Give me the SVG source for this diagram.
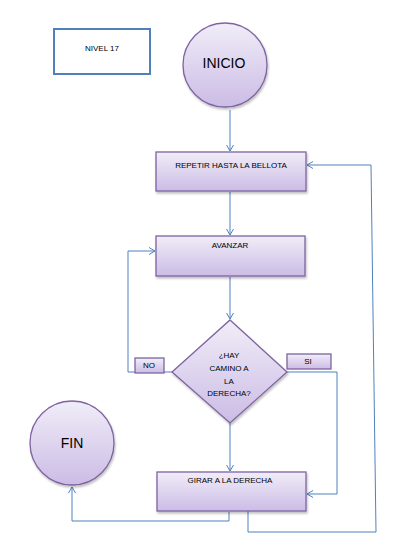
<svg xmlns="http://www.w3.org/2000/svg" width="402" height="547" viewBox="0 0 402 547">
<defs>
<linearGradient id="g" x1="0" y1="0" x2="0" y2="1">
<stop offset="0" stop-color="#f1edf8"/>
<stop offset="1" stop-color="#cbbce5"/>
</linearGradient>
<filter id="sh" x="-10%" y="-10%" width="130%" height="130%">
<feDropShadow dx="1" dy="2" stdDeviation="1" flood-color="#000" flood-opacity="0.25"/>
</filter>
<marker id="a" markerWidth="8" markerHeight="8" refX="7" refY="4" orient="auto" markerUnits="userSpaceOnUse">
<path d="M1,0.5 L7,4 L1,7.5" fill="none" stroke="#4f81bd" stroke-width="1"/>
</marker>
</defs>
<style>
.n{fill:url(#g);stroke:#7f63a1;stroke-width:1.3;filter:url(#sh)}
.t{font-family:"Liberation Sans",Arial,sans-serif;font-size:8px;fill:#000;text-anchor:middle}
.big{font-size:14px}
.c{fill:none;stroke:#4f81bd;stroke-width:1}
</style>
<rect width="402" height="547" fill="#fff"/>
<g id="connectors">
<line class="c" x1="230" y1="110" x2="230" y2="151" marker-end="url(#a)"/>
<line class="c" x1="230" y1="192" x2="230" y2="235" marker-end="url(#a)"/>
<line class="c" x1="230" y1="277" x2="230" y2="319" marker-end="url(#a)"/>
<line class="c" x1="230" y1="423" x2="230" y2="471" marker-end="url(#a)"/>
<polyline class="c" points="172,372 128,372 128,251 155,251" marker-end="url(#a)"/>
<polyline class="c" points="287,372 337,372 337,494 307,494" marker-end="url(#a)"/>
<polyline class="c" points="229,512 229,521 72,521 72,487" marker-end="url(#a)"/>
<polyline class="c" points="248,510 248,532 376,532 371,165 307,165" marker-end="url(#a)"/>
</g>
<g id="nivel">
<rect x="54" y="29" width="96" height="45" fill="#fff" stroke="#4f81bd" stroke-width="2"/>
<text class="t" x="102" y="51">NIVEL 17</text>
</g>
<g id="inicio">
<circle class="n" cx="225" cy="65" r="42"/>
<text class="t big" x="224" y="68">INICIO</text>
</g>
<g id="repetir">
<rect class="n" x="156" y="152" width="150" height="39"/>
<text class="t" x="231" y="168">REPETIR HASTA LA BELLOTA</text>
</g>
<g id="avanzar">
<rect class="n" x="156" y="236" width="149" height="40"/>
<text class="t" x="230" y="248">AVANZAR</text>
</g>
<g id="decision">
<polygon class="n" points="230,320 287,372 230,423 172,372"/>
<text class="t" x="229" y="358">¿HAY</text>
<text class="t" x="229" y="371">CAMINO A</text>
<text class="t" x="229" y="384">LA</text>
<text class="t" x="229" y="396">DERECHA?</text>
</g>
<g id="no">
<rect class="n" x="135" y="358" width="29" height="15" style="filter:none"/>
<text class="t" x="149" y="368">NO</text>
</g>
<g id="si">
<rect class="n" x="287" y="354" width="44" height="15" style="filter:none"/>
<text class="t" x="308" y="364">SI</text>
</g>
<g id="girar">
<rect class="n" x="157" y="472" width="149" height="39"/>
<text class="t" x="230" y="483">GIRAR A LA DERECHA</text>
</g>
<g id="fin">
<circle class="n" cx="72" cy="443" r="42"/>
<text class="t big" x="72" y="448">FIN</text>
</g>
</svg>
